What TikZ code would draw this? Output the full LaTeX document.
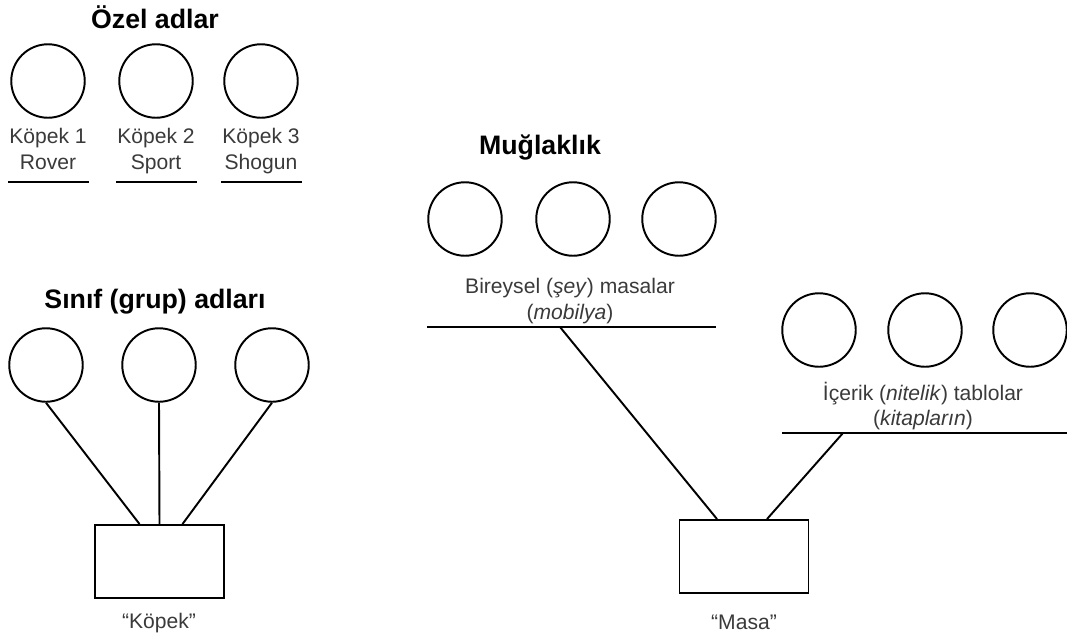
\documentclass[tikz,border=0pt]{standalone}
\usepackage{fontspec}
\setmainfont{Liberation Sans}
\usetikzlibrary{positioning}
\definecolor{txtgray}{HTML}{3A3A3A}
\tikzset{
  ring/.style={draw,circle,line width=1.1pt,minimum size=1.47cm,inner sep=0pt},
  crate/.style={draw,rectangle,line width=1.1pt,minimum width=2.58cm,minimum height=1.46cm},
  lbl/.style={text=txtgray,font=\fontsize{12}{14.7}\selectfont,align=center},
  head/.style={font=\fontsize{15.2}{18}\selectfont\bfseries},
  bar/.style={line width=1.1pt}
}

\begin{document}
\begin{tikzpicture}[x=0.02cm,y=-0.02cm]
\useasboundingbox (0,0) rectangle (1067,640);
% proper names
\node[head] (ozel) at (155,17) {Özel adlar};
\foreach \n/\x/\name in {1/48/Rover,2/156/Sport,3/261/Shogun} {
    \node[ring] (dog\n) at (\x,81) {};
    \node[lbl,anchor=north,inner sep=0pt] (doglbl\n) at (\x,128) {Köpek \n\\\name};
    \draw[bar] (\x-40,182) -- (\x+41,182);
}
% class names
\node[head] (sinif) at (155,302) {Sınıf (grup) adları};
\foreach \n/\x in {1/46,2/159,3/272}
    \node[ring] (cls\n) at (\x,365) {};
\node[crate] (kopek) at (159.5,561.5) {};
\node[lbl] (kopeklbl) at (159,623) {“Köpek”};
\draw[bar] (cls1.south) -- ([xshift=-0.4cm]kopek.north);
\draw[bar] (cls2.south) -- (kopek.north);
\draw[bar] (cls3.south) -- ([xshift=0.46cm]kopek.north);
% ambiguity
\node[head] (mug) at (540,148) {Muğlaklık};
\foreach \n/\x in {1/465,2/573,3/679}
    \node[ring] (tbl\n) at (\x,219) {};
\node[lbl] (tbllbl) at (570,301) {Bireysel (\textit{şey}) masalar\\(\textit{mobilya})};
\draw[bar] (427,327) -- (716,327);
\coordinate (tblbar) at (560,327);
\foreach \n/\x in {1/819,2/925,3/1030}
    \node[ring] (cnt\n) at (\x,330) {};
\node[lbl] (cntlbl) at (923,406) {İçerik (\textit{nitelik}) tablolar\\(\textit{kitapların})};
\draw[bar] (782,433) -- (1067,433);
\coordinate (cntbar) at (843,433);
\node[crate] (masa) at (744,556.5) {};
\node[lbl] (masalbl) at (744,622) {“Masa”};
\draw[bar] (tblbar) -- ([xshift=-0.54cm]masa.north);
\draw[bar] (cntbar) -- ([xshift=0.46cm]masa.north);
\end{tikzpicture}
\end{document}
